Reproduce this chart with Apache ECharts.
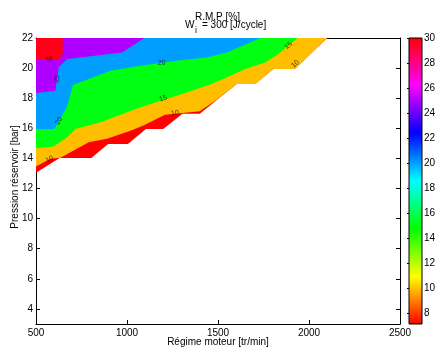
<!DOCTYPE html>
<html>
<head>
<meta charset="utf-8">
<script src="https://cdn.jsdelivr.net/npm/echarts@6/dist/echarts.min.js"></script>
<style>html,body{margin:0;padding:0;background:#fff}#c{width:435px;height:347px}</style>
</head>
<body>
<div id="c"></div>
<script>
// ---- data ----
// Régime moteur [tr/min] axis and Pression réservoir [bar] axis
const xTicks = [500, 1000, 1500, 2000, 2500];
const yTicks = [4, 6, 8, 10, 12, 14, 16, 18, 20, 22];
const cbTicks = [8, 10, 12, 14, 16, 18, 20, 22, 24, 26, 28, 30];
const cbRange = [7.1, 30];
// contour levels of R.M.P [%]
const levels = [10, 15, 20, 25, 30];
// lower edge of the valid data region (rpm, bar)
const dataEdge = [[500,13.04],[630,14.02],[804,14.02],[896,14.95],[1005,14.95],[1104,15.96],[1199,15.96],[1305,16.96],[1400,16.96],[1500,17.95],[1603,18.95],[1704,18.95],[1804,19.94],[1922,19.94],[2100,22]];
// iso-lines (rpm, bar)
const iso10 = [[500,13.47],[578,13.97],[634,14.05],[790,15.07],[890,15.3],[1019,15.84],[1093,16.2],[1208,16.9],[1400,17.13],[1492,17.9],[1500,17.96],[1603,18.95],[1704,18.95],[1804,19.94],[1922,19.94],[2100,22]];
const iso15 = [[500,14.67],[597,14.8],[671,15.4],[717,15.96],[854,16.4],[1071,17.39],[1273,18.17],[1438,18.83],[1529,19.28],[1649,19.94],[1759,20.38],[1832,20.94],[1937,22]];
const iso20 = [[500,15.96],[601,15.96],[671,17.45],[703,18.88],[909,19.83],[1071,20.16],[1273,20.49],[1438,20.71],[1548,21.04],[1676,21.7],[1730,22]];
const iso25 = [[500,18.35],[607,18.5],[625,20.05],[671,20.6],[973,21.04],[1095,22]];
const iso30 = [[500,20.54],[625,20.54],[647,20.94],[647,22]];
// contour labels: level and position (rpm, bar)
const labelLevels = [30, 25, 20, 20, 15, 10, 10, 15, 10];
const labelRpm    = [570, 616, 626, 1190, 1199, 574, 1263, 1887, 1924];
const labelBar    = [20.56, 19.3, 16.5, 20.35, 17.98, 13.95, 17.02, 21.5, 20.27];

// ---- styles ----
const bandColors = ['#ff0000', '#ffbf00', '#00ff10', '#009fff', '#af00ff', '#ff0018'];
const labelRotate = [8, 80, 62, 5, 17, 28, 8, 40, 40];
const FONT = 'Liberation Sans, Arial, Helvetica, sans-serif';

const chart = echarts.init(document.getElementById('c'), null, {renderer: 'canvas'});

const bandLines = [dataEdge, iso10, iso15, iso20, iso25, iso30];
const bandSeries = bandLines.map((pts, i) => ({
  type: 'line', xAxisIndex: 0, yAxisIndex: 0,
  data: pts, symbol: 'none', silent: true, animation: false,
  lineStyle: {width: 0, opacity: 0},
  areaStyle: {origin: 'end', color: bandColors[i], opacity: 1},
  z: 2 + i
}));

const labelSeries = {
  type: 'scatter', xAxisIndex: 0, yAxisIndex: 0, symbolSize: 0, silent: true, animation: false, z: 20,
  data: labelLevels.map((lv, i) => ({
    value: [labelRpm[i], labelBar[i], lv],
    label: {rotate: labelRotate[i]}
  })),
  label: {show: true, position: 'inside', formatter: p => String(p.value[2]),
          fontSize: 7, color: '#111', fontFamily: FONT}
};

const cmapStops = [
  {offset: 0, color: '#ff0000'}, {offset: 1/6, color: '#ffff00'}, {offset: 2/6, color: '#00ff00'},
  {offset: 3/6, color: '#00ffff'}, {offset: 4/6, color: '#0000ff'}, {offset: 5/6, color: '#ff00ff'},
  {offset: 1, color: '#ff0000'}
];
const colorbarSeries = {
  type: 'custom', xAxisIndex: 2, yAxisIndex: 2, silent: true, animation: false,
  data: [[0.5, cbRange[0]]],
  renderItem: function (params, api) {
    const p0 = api.coord([0, cbRange[1]]);
    const p1 = api.coord([1, cbRange[0]]);
    return {
      type: 'rect',
      shape: {x: p0[0], y: p0[1], width: p1[0] - p0[0], height: p1[1] - p0[1]},
      style: {fill: new echarts.graphic.LinearGradient(0, 1, 0, 0, cmapStops), stroke: '#000', lineWidth: 1}
    };
  }
};

const axisCommon = {
  axisLine: {show: true, lineStyle: {color: '#000', width: 1}},
  axisTick: {show: true, inside: true, length: 4, lineStyle: {color: '#000'}},
  splitLine: {show: false},
  axisLabel: {color: '#000', fontSize: 10, fontFamily: FONT}
};
const plain = v => String(v);
const titleStyle = {fontSize: 10, fontWeight: 'normal', color: '#000', fontFamily: FONT};

chart.setOption({
  backgroundColor: '#fff',
  animation: false,
  textStyle: {fontFamily: FONT},
  title: [
    {text: 'R.M.P [%]', left: 'center', top: 7, textStyle: titleStyle},
    {text: 'W', left: 180, top: 15, textStyle: titleStyle},
    {text: 'i', left: 190, top: 21, textStyle: Object.assign({}, titleStyle, {fontSize: 9})},
    {text: '= 300 [J/cycle]', left: 197, top: 15, textStyle: titleStyle}
  ],
  grid: [
    {left: 36, right: 35, top: 38, bottom: 23, containLabel: false, outerBoundsMode: 'none'},
    {left: 409, width: 13, top: 38, bottom: 23, containLabel: false, outerBoundsMode: 'none'}
  ],
  xAxis: [
    Object.assign({}, axisCommon, {type: 'value', gridIndex: 0, position: 'bottom', min: 500, max: 2500, interval: 500,
      name: 'Régime moteur [tr/min]', nameLocation: 'middle', nameGap: 13, nameMoveOverlap: false,
      nameTextStyle: {fontSize: 10, color: '#000', fontFamily: FONT},
      axisLabel: {color: '#000', fontSize: 10, fontFamily: FONT, margin: 4, formatter: plain}}),
    Object.assign({}, axisCommon, {type: 'value', gridIndex: 0, position: 'top', min: 500, max: 2500, interval: 500,
      axisLabel: {show: false}}),
    {type: 'value', gridIndex: 1, min: 0, max: 1, show: false}
  ],
  yAxis: [
    Object.assign({}, axisCommon, {type: 'value', gridIndex: 0, position: 'left', min: 3, max: 22,
      name: 'Pression réservoir [bar]', nameLocation: 'middle', nameGap: 16, nameMoveOverlap: false,
      nameTextStyle: {fontSize: 10, color: '#000', fontFamily: FONT, padding: [0, 0, 0, 8]},
      axisTick: {show: true, inside: true, length: 4, customValues: yTicks, lineStyle: {color: '#000'}},
      axisLabel: {color: '#000', fontSize: 10, fontFamily: FONT, margin: 3, customValues: yTicks, formatter: plain}}),
    Object.assign({}, axisCommon, {type: 'value', gridIndex: 0, position: 'right', min: 3, max: 22,
      axisTick: {show: true, inside: true, length: 4, customValues: yTicks, lineStyle: {color: '#000'}},
      axisLabel: {show: false}}),
    Object.assign({}, axisCommon, {type: 'value', gridIndex: 1, position: 'right', min: cbRange[0], max: cbRange[1],
      axisLine: {show: false},
      axisTick: {show: true, inside: true, length: 2, customValues: cbTicks, lineStyle: {color: '#000'}},
      axisLabel: {color: '#000', fontSize: 10, fontFamily: FONT, margin: 2, customValues: cbTicks, formatter: plain}}),
    Object.assign({}, axisCommon, {type: 'value', gridIndex: 1, position: 'left', min: cbRange[0], max: cbRange[1],
      axisLine: {show: false},
      axisTick: {show: true, inside: true, length: 2, customValues: cbTicks, lineStyle: {color: '#000'}},
      axisLabel: {show: false}})
  ],
  series: bandSeries.concat([labelSeries, colorbarSeries])
});
</script>
</body>
</html>
